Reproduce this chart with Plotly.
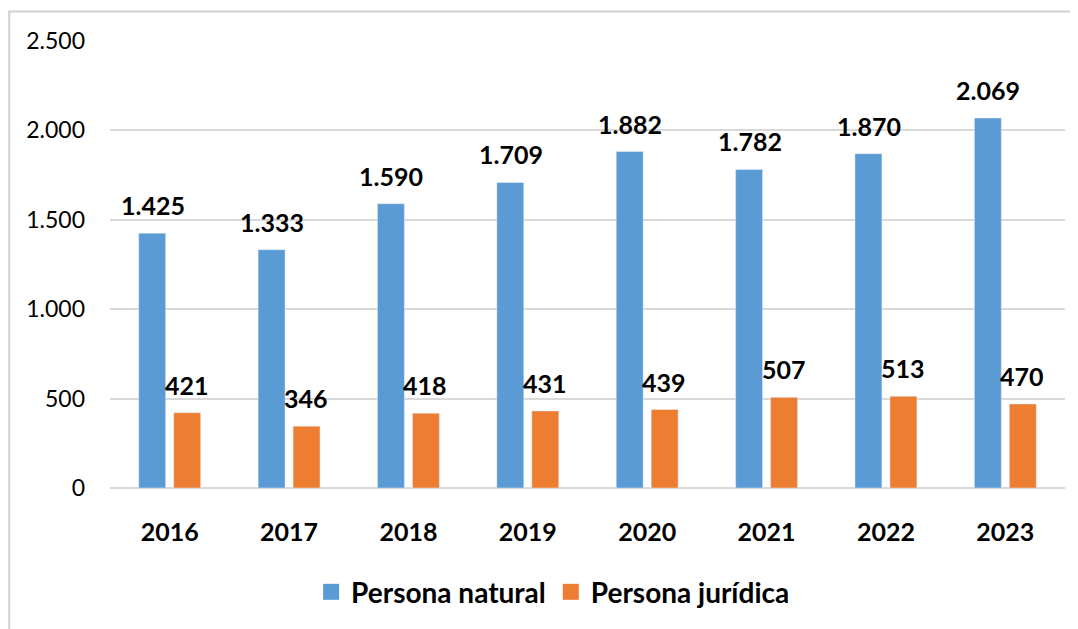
import plotly.graph_objects as go

years = ["2016", "2017", "2018", "2019", "2020", "2021", "2022", "2023"]
natural = [1425, 1333, 1590, 1709, 1882, 1782, 1870, 2069]
juridica = [421, 346, 418, 431, 439, 507, 513, 470]
series_names = ["Persona natural", "Persona jurídica"]

BLUE = "#5B9BD5"
ORANGE = "#ED7D31"
FONT = "Lato"

fig = go.Figure()
fig.add_trace(go.Bar(x=years, y=natural, name=series_names[0],
                     marker=dict(color=BLUE), showlegend=False))
fig.add_trace(go.Bar(x=years, y=juridica, name=series_names[1],
                     marker=dict(color=ORANGE), showlegend=False))
# entradas de leyenda con cuadrado más grande (como en Excel)
for nm, col in zip(series_names, (BLUE, ORANGE)):
    fig.add_trace(go.Scatter(x=[None], y=[None], mode="markers", name=f"<b>{nm}</b>",
                             marker=dict(symbol="square", size=17, color=col)))

# etiquetas de datos (en negrita, sobre cada barra); x = índice de categoría
annots = []
for serie, shift in ((natural, -17), (juridica, 17)):
    for i, v in enumerate(serie):
        annots.append(dict(x=i, y=v, xref="x", yref="y", text=f"<b>{v:,}</b>".replace(",", "."),
                           showarrow=False, xshift=shift, yshift=28, yanchor="middle",
                           font=dict(family=FONT, size=25, color="black")))

fig.update_layout(
    width=1070, height=621,
    margin=dict(l=102, r=13, t=33, b=132),
    paper_bgcolor="white", plot_bgcolor="white",
    barmode="group", bargap=0.414, bargroupgap=0.23,
    separators=",.",
    font=dict(family=FONT, size=22, color="black"),
    showlegend=True,
    legend=dict(orientation="h", x=0.464, xanchor="center", y=-0.177, yanchor="top",
                font=dict(family=FONT, size=28), traceorder="normal",
                itemwidth=30),
    annotations=annots,
    shapes=[dict(type="rect", xref="paper", yref="paper",
                 x0=-0.1055, x1=1.03, y0=-0.32, y1=1.0658,
                 line=dict(color="#D0D0D0", width=2), layer="below")],
)
fig.update_xaxes(type="category", categoryorder="array", categoryarray=years,
                 showgrid=False, showline=False, ticks="",
                 tickfont=dict(family=FONT, size=25), tickprefix="<b>", ticksuffix="</b>",
                 ticklabelstandoff=27)
fig.update_yaxes(range=[0, 2500], dtick=500, tickformat=",d",
                 showgrid=True, gridcolor="#D9D9D9", gridwidth=1.5,
                 zeroline=True, zerolinecolor="#D9D9D9", zerolinewidth=1.5,
                 showline=False, tickfont=dict(family=FONT, size=23),
                 ticklabelstandoff=24)

fig.write_html("out.html")
